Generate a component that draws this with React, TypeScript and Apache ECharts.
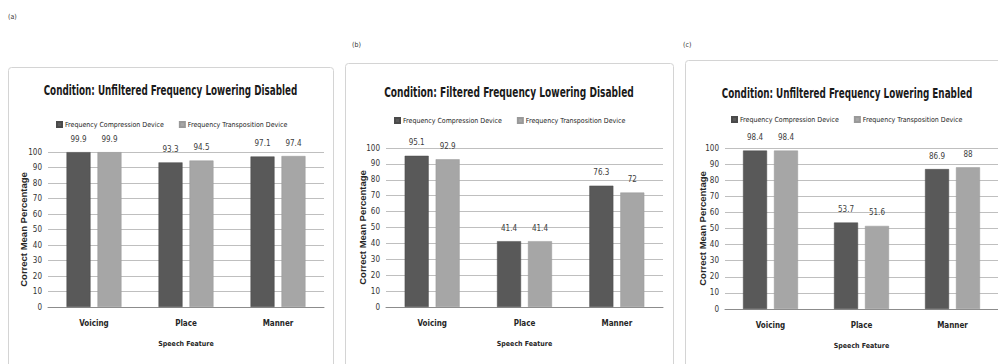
import React, { useEffect, useRef } from "react";
import * as echarts from "echarts";

const categories = ["Voicing", "Place", "Manner"];
const seriesNames = ["Frequency Compression Device", "Frequency Transposition Device"];
const panelTitles = [
  "Condition: Unfiltered Frequency Lowering Disabled",
  "Condition: Filtered Frequency Lowering Disabled",
  "Condition: Unfiltered Frequency Lowering Enabled",
];
const panelLabels = ["(a)", "(b)", "(c)"];
const compressionA = [99.9, 93.3, 97.1];
const transpositionA = [99.9, 94.5, 97.4];
const compressionB = [95.1, 41.4, 76.3];
const transpositionB = [92.9, 41.4, 72];
const compressionC = [98.4, 53.7, 86.9];
const transpositionC = [98.4, 51.6, 88];
const yTicks = { min: 0, max: 100, interval: 10 };
const yAxisTitle = "Correct Mean Percentage";
const xAxisTitle = "Speech Feature";

const NARROW = "'DejaVu Sans Condensed', 'DejaVu Sans', sans-serif";
const SANS = "'Liberation Sans', Arial, sans-serif";
const DARK = "#595959";
const LIGHT = "#a6a6a6";

export default function App() {
  const ref = useRef<HTMLDivElement>(null);
  useEffect(() => {
    if (!ref.current) return;
    const chart = echarts.init(ref.current, undefined, { renderer: "svg" });

    const boxes = [
      { x: 8, y: 67, w: 325, h: 310 },
      { x: 345, y: 63, w: 328, h: 310 },
      { x: 685, y: 60, w: 324, h: 310 },
    ];
    const grids = [
      { left: 48, top: 152, width: 276, height: 155 },
      { left: 386, top: 148, width: 277, height: 159 },
      { left: 725, top: 148, width: 277, height: 161 },
    ];
    const labelPos = [
      { x: 8, y: 17 },
      { x: 352, y: 45 },
      { x: 683, y: 45 },
    ];
    const titleY = [90, 92, 93];
    const titleScale = [0.7, 0.72, 0.7];
    const legendPos = [
      { left: 56, top: 121 },
      { left: 394, top: 117 },
      { left: 731, top: 116 },
    ];
    const yNameGap = [20, 19, 18];
    const data = [
      [compressionA, transpositionA],
      [compressionB, transpositionB],
      [compressionC, transpositionC],
    ];

    const graphic: any[] = [];
    boxes.forEach((b, i) => {
      graphic.push({
        type: "rect",
        shape: { x: b.x + 0.5, y: b.y + 0.5, width: b.w, height: b.h, r: 3 },
        style: { fill: "#fff", stroke: "#d4d4d4", lineWidth: 1 },
        z: -10,
      });
      graphic.push({
        type: "text",
        x: labelPos[i].x,
        y: labelPos[i].y,
        style: { text: panelLabels[i], font: `7px ${NARROW}`, fill: "#333", verticalAlign: "middle" },
      });
      graphic.push({
        type: "text",
        x: b.x + b.w / 2,
        y: titleY[i],
        scaleX: titleScale[i],
        style: {
          text: panelTitles[i],
          font: `bold 14px ${NARROW}`,
          fill: "#1a1a1a",
          align: "center",
          verticalAlign: "middle",
        },
      });
    });

    const series: any[] = [];
    data.forEach((pair, gi) => {
      pair.forEach((vals, si) => {
        series.push({
          type: "bar",
          name: seriesNames[si],
          xAxisIndex: gi,
          yAxisIndex: gi,
          data: vals,
          barWidth: 24,
          barGap: "29%",
          itemStyle: { color: si === 0 ? DARK : LIGHT, borderColor: si === 0 ? "#4a4a4a" : "#999", borderWidth: 0.5 },
          label: {
            show: true,
            position: "top",
            distance: 9,
            fontSize: 8,
            fontFamily: NARROW,
            color: "#404040",
          },
        });
      });
    });

    chart.setOption({
      animation: false,
      backgroundColor: "#fff",
      graphic,
      legend: legendPos.map((p) => ({
        left: p.left,
        top: p.top,
        data: seriesNames,
        icon: "rect",
        itemWidth: 5,
        itemHeight: 5,
        itemGap: 15,
        padding: 0,
        textStyle: { fontSize: 7, fontFamily: NARROW, color: "#222", padding: [0, 0, 0, -2] },
      })),
      grid: grids.map((g) => ({ ...g, containLabel: false })),
      xAxis: grids.map((_, i) => ({
        type: "category",
        gridIndex: i,
        data: categories,
        axisLine: { lineStyle: { color: "#8c8c8c" } },
        axisTick: { show: false },
        axisLabel: { fontSize: 8, fontWeight: "bold", fontFamily: NARROW, color: "#262626", margin: 12 },
        name: xAxisTitle,
        nameLocation: "middle",
        nameGap: 33,
        nameMoveOverlap: false,
        nameTextStyle: { fontSize: 7, fontWeight: "bold", fontFamily: NARROW, color: "#262626" },
      })),
      yAxis: grids.map((_, i) => ({
        type: "value",
        gridIndex: i,
        min: yTicks.min,
        max: yTicks.max,
        interval: yTicks.interval,
        axisLine: { show: false },
        axisTick: { show: false },
        splitLine: { lineStyle: { color: "#bfbfbf", width: 1 } },
        axisLabel: { fontSize: 8, fontFamily: NARROW, color: "#333", margin: 6 },
        name: yAxisTitle,
        nameLocation: "middle",
        nameGap: yNameGap[i],
        nameMoveOverlap: false,
        nameTextStyle: { fontSize: 9.5, fontWeight: "bold", fontFamily: SANS, color: "#262626" },
      })),
      series,
    });
    return () => chart.dispose();
  }, []);
  return <div ref={ref} style={{ position: "absolute", left: 0, top: 0, width: 998, height: 364 }} />;
}
